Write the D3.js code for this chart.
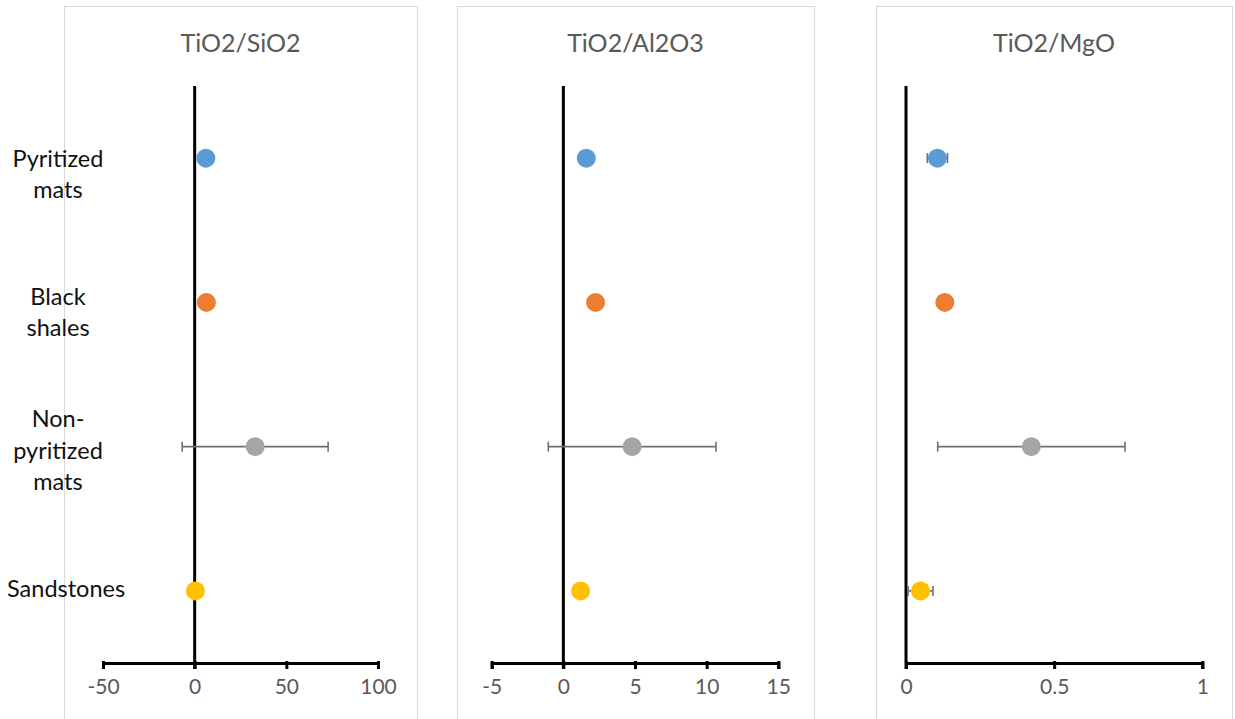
<!DOCTYPE html>
<html>
<head>
<meta charset="utf-8">
<script src="https://cdn.jsdelivr.net/npm/d3@7"></script>
<style>
  body { margin: 0; background: #fff; }
  svg { display: block; font-family: Lato, "Open Sans", sans-serif; }
</style>
</head>
<body>
<div id="chart"></div>
<script>
// categories, top to bottom
var categories = ["Pyritized mats", "Black shales", "Non-pyritized mats", "Sandstones"];
var categoryLines = [["Pyritized", "mats"], ["Black", "shales"], ["Non-", "pyritized", "mats"], ["Sandstones"]];
var seriesColors = ["#5B9BD5", "#ED7D31", "#A5A5A5", "#FFC000"];

var panelTitles = ["TiO2/SiO2", "TiO2/Al2O3", "TiO2/MgO"];

// means and +/- error for each ratio
var sio2Means = [6.1, 6.4, 33.0, 0.4];
var sio2Errors = [0, 0, 39.8, 0];
var al2o3Means = [1.6, 2.25, 4.8, 1.2];
var al2o3Errors = [0, 0, 5.85, 0];
var mgoMeans = [0.106, 0.131, 0.423, 0.049];
var mgoErrors = [0.034, 0, 0.316, 0.042];

var sio2Ticks = [-50, 0, 50, 100];
var al2o3Ticks = [-5, 0, 5, 10, 15];
var mgoTicks = [0, 0.5, 1];

var W = 1235, H = 719;

var svg = d3.select("#chart").append("svg")
    .attr("width", W)
    .attr("height", H);

var panels = [
    { title: panelTitles[0], means: sio2Means, errs: sio2Errors, ticks: sio2Ticks, box: [64, 417], range: [103, 378] },
    { title: panelTitles[1], means: al2o3Means, errs: al2o3Errors, ticks: al2o3Ticks, box: [457, 814], range: [491.7, 778.3] },
    { title: panelTitles[2], means: mgoMeans, errs: mgoErrors, ticks: mgoTicks, box: [876, 1232], range: [906, 1202.3] }
];

var plotTop = 86, plotBottom = 663;

var y = d3.scaleBand()
    .domain(categories)
    .range([plotTop, plotBottom]);

// category labels sit in their own band on the left
var yLabel = d3.scaleBand()
    .domain(categories)
    .range([105, 658]);

panels.forEach(function(p) {
    var x = d3.scaleLinear()
        .domain(d3.extent(p.ticks))
        .range(p.range);

    var g = svg.append("g");

    // chart area border
    g.append("rect")
        .attr("x", p.box[0] + 0.5)
        .attr("y", 6.5)
        .attr("width", p.box[1] - p.box[0])
        .attr("height", H + 10)
        .attr("fill", "white")
        .attr("stroke", "#d9d9d9")
        .attr("stroke-width", 1);

    g.append("text")
        .attr("x", (p.box[0] + p.box[1]) / 2)
        .attr("y", 52)
        .attr("text-anchor", "middle")
        .attr("fill", "#595959")
        .style("font-size", "25px")
        .text(p.title);

    // x axis
    var xAxis = d3.axisBottom(x)
        .tickValues(p.ticks)
        .tickSizeOuter(0)
        .tickSize(6)
        .tickPadding(10)
        .tickFormat(function(d){ return String(d); });

    var ax = g.append("g")
        .attr("transform", "translate(0," + plotBottom + ")")
        .call(xAxis);
    ax.select(".domain").attr("stroke", "black").attr("stroke-width", 3);
    ax.selectAll(".tick line").attr("stroke", "black").attr("stroke-width", 3).attr("y1", -2);
    ax.selectAll(".tick text")
        .attr("fill", "#595959")
        .style("font-size", "21px")
        .style("font-family", "Lato, 'Open Sans', sans-serif");

    // vertical axis at zero
    g.append("line")
        .attr("x1", x(0)).attr("x2", x(0))
        .attr("y1", plotTop).attr("y2", plotBottom + 6)
        .attr("stroke", "black")
        .attr("stroke-width", 3);

    var rows = categories.map(function(c, i) {
        return { cat: c, mean: p.means[i], err: p.errs[i], color: seriesColors[i] };
    });

    var eb = g.selectAll(".err")
        .data(rows.filter(function(d){ return d.err > 0; }))
        .enter().append("g")
        .attr("class", "err")
        .attr("stroke", "#6f6f6f")
        .attr("stroke-width", 1.6);
    eb.append("line")
        .attr("x1", function(d){ return x(d.mean - d.err); })
        .attr("x2", function(d){ return x(d.mean + d.err); })
        .attr("y1", function(d){ return y(d.cat) + y.bandwidth() / 2; })
        .attr("y2", function(d){ return y(d.cat) + y.bandwidth() / 2; });
    [-1, 1].forEach(function(s) {
        eb.append("line")
            .attr("x1", function(d){ return x(d.mean + s * d.err); })
            .attr("x2", function(d){ return x(d.mean + s * d.err); })
            .attr("y1", function(d){ return y(d.cat) + y.bandwidth() / 2 - 5; })
            .attr("y2", function(d){ return y(d.cat) + y.bandwidth() / 2 + 5; });
    });

    g.selectAll(".dot")
        .data(rows)
        .enter().append("circle")
        .attr("class", "dot")
        .attr("cx", function(d){ return x(d.mean); })
        .attr("cy", function(d){ return y(d.cat) + y.bandwidth() / 2; })
        .attr("r", 9.5)
        .attr("fill", function(d){ return d.color; });
});

// category labels
var lineH = 31.5;
var labels = svg.selectAll(".catlabel")
    .data(categories)
    .enter().append("text")
    .attr("class", "catlabel")
    .attr("text-anchor", "middle")
    .attr("fill", "#111")
    .style("font-size", "23.5px")
    .attr("transform", function(d){
        return "translate(58," + (yLabel(d) + yLabel.bandwidth() / 2) + ")";
    });

labels.each(function(d, i) {
    var lines = categoryLines[i];
    var t = d3.select(this);
    lines.forEach(function(l, j) {
        t.append("tspan")
            .attr("x", 0)
            .attr("y", (j - (lines.length - 1) / 2) * lineH)
            .attr("dy", "0.35em")
            .text(l);
    });
    // keep wide labels inside the left edge
    var bb = this.getBBox();
    if (58 + bb.x < 7) {
        t.attr("transform", "translate(" + (7 - bb.x) + "," + (yLabel(d) + yLabel.bandwidth() / 2) + ")");
    }
});
</script>
</body>
</html>
